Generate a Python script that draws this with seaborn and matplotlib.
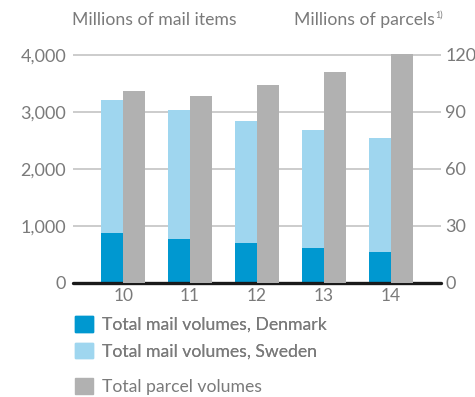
import matplotlib
matplotlib.use("Agg")
import matplotlib.pyplot as plt
import matplotlib.patches as mpatches
import seaborn as sns
import pandas as pd

years = ["10", "11", "12", "13", "14"]
mail_denmark = [871, 771, 695, 612, 541]
mail_total = [3210, 3028, 2834, 2675, 2534]
parcels = [101.2, 98.4, 104.2, 111.0, 121.1]
left_ticks = [0, 1000, 2000, 3000, 4000]
left_labels = ["0", "1,000", "2,000", "3,000", "4,000"]
right_ticks = [0, 30, 60, 90, 120]
right_labels = ["0", "30", "60", "90", "120"]
legend_labels = ["Total mail volumes, Denmark", "Total mail volumes, Sweden", "Total parcel volumes"]

C_DK = "#0098d0"
C_SE = "#9fd6ef"
C_PA = "#b1b1b1"
TXT = "#7a7a7a"

sns.set_theme(style="white")
plt.rcParams["font.family"] = ["Lato", "DejaVu Sans"]

fig = plt.figure(figsize=(4.75, 3.97), dpi=100)
ax = fig.add_axes([73/475, 1-282.7/397, 368/475, (282.7-54.4)/397])
ax2 = ax.twinx()

kinds = ["mail", "parcel"]
df_total = pd.DataFrame({"year": years, "value": mail_total, "kind": "mail"})
df_dk = pd.DataFrame({"year": years, "value": mail_denmark, "kind": "mail"})
df_pa = pd.DataFrame({"year": years, "value": parcels, "kind": "parcel"})

common = dict(x="year", hue="kind", hue_order=kinds, dodge=True, width=0.66,
              gap=0, legend=False, order=years, saturation=1, errorbar=None,
              linewidth=0)
sns.barplot(data=df_total, y="value", palette={"mail": C_SE, "parcel": C_PA}, ax=ax, zorder=2, **common)
sns.barplot(data=df_dk, y="value", palette={"mail": C_DK, "parcel": C_PA}, ax=ax, zorder=3, **common)
sns.barplot(data=df_pa, y="value", palette={"mail": C_SE, "parcel": C_PA}, ax=ax2, zorder=2, **common)

for a in (ax, ax2):
    a.set_xlim(-0.75, 4.75)
    for s in a.spines.values():
        s.set_visible(False)
    a.set_xlabel("")
    a.set_ylabel("")
    a.tick_params(length=0)

ax.set_ylim(0, 4010)
ax2.set_ylim(0, 120.3)
ax.set_yticks(left_ticks)
ax.set_yticklabels(left_labels)
ax2.set_yticks(right_ticks)
ax2.set_yticklabels(right_labels)
ax.yaxis.grid(True, color="#c8c8c8", linewidth=1.3, zorder=0)
ax.set_axisbelow(True)
ax2.grid(False)
ax.tick_params(axis="y", labelsize=13, labelcolor=TXT, pad=5)
ax2.tick_params(axis="y", labelsize=13, labelcolor=TXT, pad=3)
ax.tick_params(axis="x", labelsize=12.5, labelcolor=TXT, pad=4)
ax.axhline(0, color="#1a1a1a", linewidth=2.4, zorder=5, clip_on=False)

fig.text(72/475, 1-20/397, "Millions of mail items", fontsize=12.7, color=TXT,
         ha="left", va="center")
fig.text(435/475, 1-20/397, "Millions of parcels", fontsize=12.7, color=TXT,
         ha="right", va="center")
fig.text(435.5/475, 1-15/397, "1)", fontsize=6.5, color=TXT, ha="left", va="center")

h1 = [mpatches.Patch(color=C_DK), mpatches.Patch(color=C_SE)]
leg1 = fig.legend(h1, legend_labels[:2], loc="upper left", bbox_to_anchor=(75/475, 1-316/397),
                  frameon=False, fontsize=12.7, handlelength=1.0, handleheight=1.0,
                  handletextpad=0.55, labelspacing=0.55, labelcolor=TXT, borderpad=0,
                  borderaxespad=0)
leg2 = fig.legend([mpatches.Patch(color=C_PA)], legend_labels[2:], loc="upper left",
                  bbox_to_anchor=(75/475, 1-378/397), frameon=False, fontsize=12.7,
                  handlelength=1.0, handleheight=1.0, handletextpad=0.55, labelcolor=TXT,
                  borderpad=0, borderaxespad=0)
fig.add_artist(leg1)

fig.savefig("out.png", dpi=100)
